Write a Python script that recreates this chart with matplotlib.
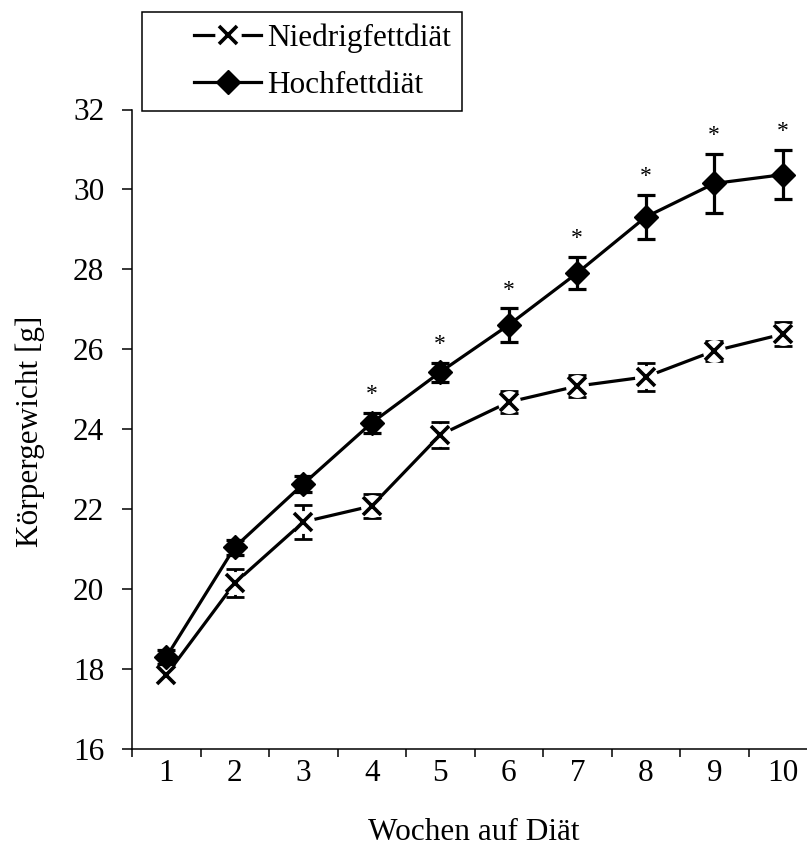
import numpy as np
import matplotlib
matplotlib.use("Agg")
import matplotlib.pyplot as plt
from matplotlib.lines import Line2D
from matplotlib.legend_handler import HandlerTuple, HandlerLine2D

weeks = [1, 2, 3, 4, 5, 6, 7, 8, 9, 10]
week_labels = ["1", "2", "3", "4", "5", "6", "7", "8", "9", "10"]
hfd_mean = [18.30, 21.05, 22.63, 24.16, 25.43, 26.61, 27.91, 29.31, 30.15, 30.37]
hfd_err = [0.18, 0.19, 0.21, 0.25, 0.24, 0.42, 0.40, 0.56, 0.74, 0.62]
lfd_mean = [17.85, 20.15, 21.68, 22.08, 23.86, 24.68, 25.08, 25.31, 25.96, 26.38]
lfd_err = [0.08, 0.35, 0.43, 0.30, 0.33, 0.28, 0.28, 0.36, 0.26, 0.30]
significant = [False, False, False, True, True, True, True, True, True, True]
yticks = [16, 18, 20, 22, 24, 26, 28, 30, 32]

plt.rcParams['font.family'] = ['Liberation Serif', 'DejaVu Serif']
FS = 22.5

fig = plt.figure(figsize=(8.07, 8.68), dpi=100)
W, H = 807, 868
left, right, bottom, top = 132, 817, 749, 109.5
ax = fig.add_axes([left / W, 1 - bottom / H, (right - left) / W, (bottom - top) / H])

lw = 2.3
gap_ms = 16.5
x_ms = 13
d_ms = 12

# Low-fat diet
ax.plot(weeks, lfd_mean, color='black', lw=lw, zorder=2)
ax.errorbar(weeks, lfd_mean, yerr=lfd_err, fmt='none', ecolor='black',
            elinewidth=2.0, capsize=6.5, capthick=2.0, zorder=2)
ax.plot(weeks, lfd_mean, 'o', ms=gap_ms, mfc='white', mec='none', zorder=3)
ax.plot(weeks, lfd_mean, 'x', ms=x_ms, mec='black', mew=2.6, zorder=4)

# High-fat diet
ax.errorbar(weeks, hfd_mean, yerr=hfd_err, fmt='none', ecolor='black',
            elinewidth=2.3, capsize=6.5, capthick=2.3, zorder=5)
ax.plot(weeks, hfd_mean, color='black', lw=lw, marker='D', ms=d_ms,
        mfc='black', mec='black', zorder=6)

for w, m, e, s in zip(weeks, hfd_mean, hfd_err, significant):
    if s:
        ax.annotate('*', xy=(w, m + e), xytext=(0, 9), textcoords='offset points',
                    ha='center', va='baseline', fontsize=17, zorder=7)

ax.set_xlim(0.5, 10.5)
ax.set_ylim(16, 32)
ax.set_yticks(yticks)
ax.set_yticklabels([str(t) for t in yticks])
ax.set_xticks(np.arange(0.5, 10.5, 1))
ax.set_xticklabels([])
ax.set_xticks(weeks, minor=True)
ax.set_xticklabels(week_labels, minor=True)

ax.tick_params(axis='y', which='major', direction='out', length=7, width=1.1,
               labelsize=FS, pad=13)
ax.tick_params(axis='x', which='major', direction='out', length=6, width=1.1)
ax.tick_params(axis='x', which='minor', length=0, labelsize=FS, pad=7)
for side in ['top', 'right']:
    ax.spines[side].set_visible(False)
for side in ['left', 'bottom']:
    ax.spines[side].set_linewidth(1.1)

fig.text(30 / W, 1 - 431 / H, 'Körpergewicht [g]', rotation=90, ha='center',
         va='center', fontsize=FS)
fig.text(474 / W, 1 - 833 / H, 'Wochen auf Diät', ha='center', va='center',
         fontsize=FS)


class ShiftedLine(HandlerLine2D):
    """Line handle drawn only in the right part of the handle box."""
    def __init__(self, start_frac, **kw):
        super().__init__(**kw)
        self.start_frac = start_frac

    def get_xdata(self, legend, xdescent, ydescent, width, height, fontsize):
        start = -xdescent + width * self.start_frac
        end = -xdescent + width
        return np.array([start, end]), np.array([(start + end) / 2])


# Legend
h_lfd = (Line2D([0], [0], color='black', lw=lw),
         Line2D([0], [0], ls='none', marker='o', ms=19, mfc='white', mec='none'),
         Line2D([0], [0], ls='none', marker='x', ms=x_ms, mec='black', mew=2.6))
h_hfd = Line2D([0], [0], color='black', lw=lw, marker='D', ms=d_ms, mfc='black')
hl = 3.45
leg = fig.legend([h_lfd, h_hfd], ['Niedrigfettdiät', 'Hochfettdiät'],
                 handler_map={tuple: HandlerTuple(ndivide=1, pad=0),
                              Line2D: ShiftedLine(0.38)},
                 loc='upper left', bbox_to_anchor=(142 / W, 1 - 12 / H),
                 fontsize=FS, frameon=True, fancybox=False, edgecolor='black',
                 framealpha=1, borderpad=0.36, handlelength=hl, handletextpad=0.2,
                 labelspacing=0.57, borderaxespad=0)
leg.get_frame().set_linewidth(1.1)

fig.savefig('out.png', dpi=100)
